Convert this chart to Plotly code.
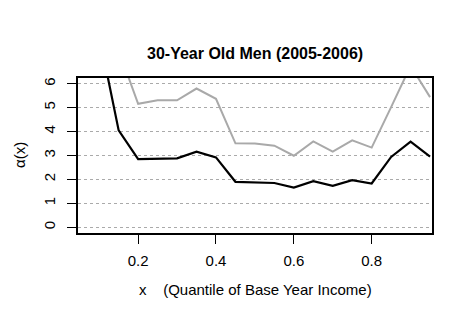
import plotly.graph_objects as go

# quantiles of base year income
x = [0.05, 0.10, 0.15, 0.20, 0.25, 0.30, 0.35, 0.40, 0.45, 0.50,
     0.55, 0.60, 0.65, 0.70, 0.75, 0.80, 0.85, 0.90, 0.95]

# alpha(x) estimates, black line
alpha_black = [12.0, 8.1, 4.05, 2.85, 2.87, 2.88, 3.16, 2.92, 1.90, 1.88,
               1.85, 1.66, 1.93, 1.73, 1.97, 1.83, 2.94, 3.58, 2.95]
# upper band, gray line
alpha_gray = [11.0, 9.6, 7.4, 5.16, 5.31, 5.31, 5.80, 5.37, 3.51, 3.50,
              3.41, 2.99, 3.59, 3.16, 3.63, 3.33, 5.02, 6.75, 5.44]

x_ticks = [0.2, 0.4, 0.6, 0.8]
y_ticks = [0, 1, 2, 3, 4, 5, 6]

font = "Liberation Sans, Arial, sans-serif"

fig = go.Figure()
fig.add_trace(go.Scatter(x=x, y=alpha_gray, mode="lines",
                         line=dict(color="#a9a9a9", width=2)))
fig.add_trace(go.Scatter(x=x, y=alpha_black, mode="lines",
                         line=dict(color="black", width=2.2)))

fig.update_layout(
    width=472, height=331,
    margin=dict(l=78, r=40, t=78, b=98),
    paper_bgcolor="white", plot_bgcolor="white",
    showlegend=False,
    font=dict(family=font, size=15, color="black"),
)
fig.update_xaxes(
    range=[0.0455, 0.955], tickvals=x_ticks, ticktext=["0.2", "0.4", "0.6", "0.8"],
    showgrid=False, zeroline=False,
    showline=True, linecolor="black", linewidth=1.5, mirror=True,
    ticks="outside", ticklen=9, tickcolor="black", tickfont=dict(size=15),
    ticklabelstandoff=4,
)
fig.update_yaxes(
    range=[-0.24, 6.24], tickvals=y_ticks, tickangle=-90,
    showgrid=True, gridcolor="#aaaaaa", griddash="dot", gridwidth=1,
    zeroline=False,
    showline=True, linecolor="black", linewidth=1.5, mirror=True,
    ticks="outside", ticklen=9, tickcolor="black", tickfont=dict(size=15),
    ticklabelstandoff=6,
)

fig.add_annotation(text="<b>30-Year Old Men (2005-2006)</b>", xref="paper", yref="paper",
                   x=0.5, y=1, yshift=35, showarrow=False, font=dict(size=16))
fig.add_annotation(text="x    (Quantile of Base Year Income)", xref="paper", yref="paper",
                   x=0.5, y=0, yshift=-67, showarrow=False, font=dict(size=15))
fig.add_annotation(text="α(x)", xref="paper", yref="paper", x=0, xshift=-69,
                   y=0.5, textangle=-90, showarrow=False, font=dict(size=15))

fig.write_html("out.html", config={"displayModeBar": False},
               post_script="document.body.style.margin='0';")
